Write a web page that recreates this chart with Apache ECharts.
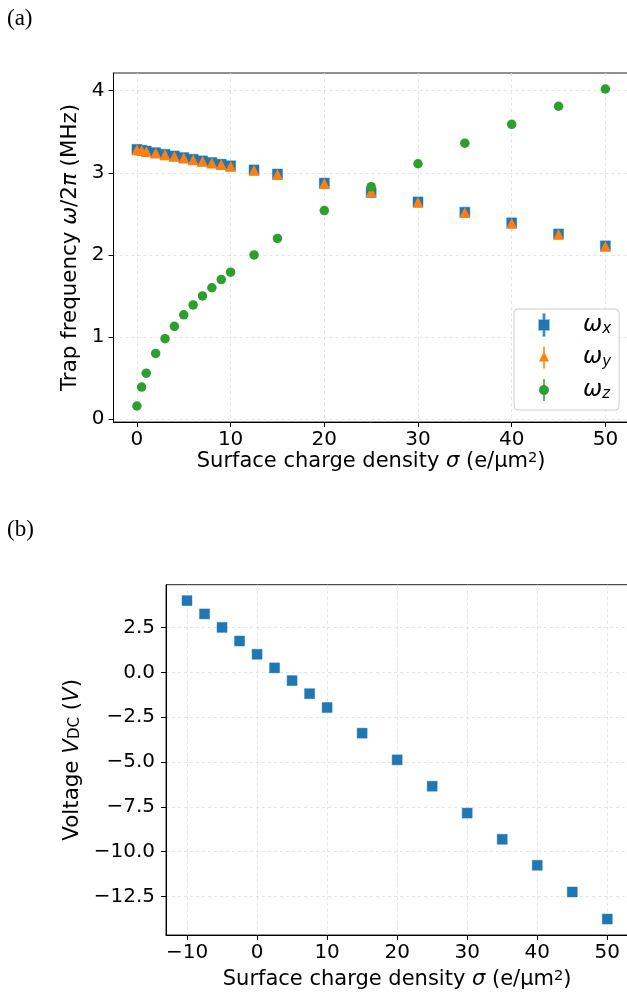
<!DOCTYPE html>
<html><head><meta charset="utf-8">
<script src="https://cdn.jsdelivr.net/npm/echarts@6/dist/echarts.min.js"></script>
<style>html,body{margin:0;padding:0;background:#fff}#c{width:627px;height:994px}</style>
</head><body><div id="c"></div>
<script>
// ---- data: panel (a) ----
const sigmaA = [0, 0.5, 1, 2, 3, 4, 5, 6, 7, 8, 9, 10, 12.5, 15, 20, 25, 30, 35, 40, 45, 50];
const omegaX = [3.285, 3.275, 3.265, 3.245, 3.225, 3.205, 3.185, 3.165, 3.145, 3.125, 3.105, 3.085, 3.035, 2.985, 2.875, 2.76, 2.645, 2.52, 2.39, 2.255, 2.11];
const omegaY = [3.28, 3.27, 3.26, 3.24, 3.22, 3.2, 3.18, 3.16, 3.14, 3.12, 3.1, 3.08, 3.03, 2.98, 2.87, 2.77, 2.64, 2.515, 2.385, 2.25, 2.105];
const omegaZ = [0.16, 0.39, 0.56, 0.80, 0.98, 1.13, 1.27, 1.39, 1.50, 1.60, 1.70, 1.79, 2.00, 2.20, 2.54, 2.83, 3.11, 3.36, 3.59, 3.81, 4.02];
const ticksAX = [0, 10, 20, 30, 40, 50];
const ticksAY = [0, 1, 2, 3, 4];
// ---- data: panel (b) ----
const sigmaB = [-10, -7.5, -5, -2.5, 0, 2.5, 5, 7.5, 10, 15, 20, 25, 30, 35, 40, 45, 50];
const voltage = [4.00, 3.26, 2.51, 1.75, 1.01, 0.25, -0.46, -1.19, -1.96, -3.39, -4.88, -6.35, -7.85, -9.31, -10.76, -12.25, -13.76];
const ticksBX = [-10, 0, 10, 20, 30, 40, 50];
const ticksBY = [-12.5, -10, -7.5, -5, -2.5, 0, 2.5];

const FONT = 'DejaVu Sans';
const zip = (xs, ys) => xs.map((x, i) => [x, ys[i]]);
const minus = s => s.replace('-', '\u2212');

const labelBase = {fontSize: 20, color: '#000', fontFamily: FONT};
function mkAxis(gridIndex, min, max, ticks, fmt, margin, name, nameGap, nameStyle) {
  return {
    gridIndex, type: 'value', min, max,
    axisLine: {show: true, onZero: false, lineStyle: {color: '#000', width: 1}},
    axisTick: {show: true, length: 5, inside: false, lineStyle: {color: '#000', width: 1}, customValues: ticks},
    axisLabel: Object.assign({customValues: ticks, margin, formatter: fmt}, labelBase),
    splitLine: {show: true, lineStyle: {color: '#dedede', type: [3, 3], width: 0.8}},
    name, nameLocation: 'middle', nameGap, nameTextStyle: nameStyle
  };
}
function rich(fs) {
  return {
    n: {fontSize: fs, fontFamily: FONT, color: '#000'},
    i: {fontSize: fs, fontFamily: FONT, fontStyle: 'italic', color: '#000'},
    sup: {fontSize: fs * 0.7, fontFamily: FONT, color: '#000', verticalAlign: 'top', padding: [0, 0, 6, 0]},
    sub: {fontSize: fs * 0.7, fontFamily: FONT, color: '#000', verticalAlign: 'bottom'}
  };
}
const xName = '{n|Surface charge density }{i|σ}{n| (e/µm}{sup|2}{n|)}';

const fmtInt = v => minus(String(v));
const fmt1 = v => minus(v.toFixed(1));

const sqIcon = 'path://M4.25,0H5.75V6H10V16H5.75V22H4.25V16H0V6H4.25Z';
const triIcon = 'path://M4.25,0H5.75V6.5L10,15H5.75V22H4.25V15H0L4.25,6.5Z';
const cirIcon = 'path://M4.25,0H5.75V6.06A5,5 0 0 1 5.75,15.94V22H4.25V15.94A5,5 0 0 1 4.25,6.06Z';

const legendLabels = {wx: '{g|}{w|ω}{s|x}', wy: '{g|}{w|ω}{s|y}', wz: '{g|}{w|ω}{s|z}'};

const option = {
  backgroundColor: '#fff',
  animation: false,
  grid: [
    {left: 113.5, top: 73, width: 515.3, height: 349, show: true, borderColor: '#222', borderWidth: 1, backgroundColor: 'transparent', containLabel: false, outerBoundsMode: 'none'},
    {left: 166, top: 584.7, width: 462.3, height: 350.3, show: true, borderColor: '#222', borderWidth: 1, backgroundColor: 'transparent', containLabel: false, outerBoundsMode: 'none'}
  ],
  xAxis: [
    mkAxis(0, -2.5, 52.5, ticksAX, fmtInt, 8, xName, 27, {rich: rich(21)}),
    mkAxis(1, -13, 53, ticksBX, fmtInt, 8, xName, 34, {rich: rich(21)})
  ],
  yAxis: [
    mkAxis(0, -0.035, 4.215, ticksAY, fmtInt, 9, '{n|Trap frequency }{i|ω}{n|/2}{i|π}{n| (MHz)}', 14, {rich: rich(21.4)}),
    mkAxis(1, -14.65, 4.89, ticksBY, fmt1, 11, '{n|Voltage }{i|V}{sub|DC}{n| (}{i|V}{n|)}', 66.5, {rich: rich(21.4)})
  ],
  legend: {
    orient: 'vertical', left: 514, top: 309,
    itemWidth: 10, itemHeight: 22, itemGap: 9,
    padding: [4, 8, 8, 24],
    backgroundColor: 'rgba(255,255,255,0.8)', borderColor: '#cccccc', borderWidth: 1, borderRadius: 4,
    data: [{name: 'wx', icon: sqIcon}, {name: 'wy', icon: triIcon}, {name: 'wz', icon: cirIcon}],
    formatter: n => legendLabels[n],
    textStyle: {
      rich: {
        g: {width: 29, lineHeight: 24},
        w: {fontSize: 23, lineHeight: 24, fontFamily: FONT, fontStyle: 'italic', color: '#000'},
        s: {fontSize: 15, fontFamily: FONT, fontStyle: 'italic', color: '#000', verticalAlign: 'bottom'}
      }
    }
  },
  graphic: [
    {type: 'text', left: 7, top: 7, style: {text: '(a)', fontSize: 23, fontFamily: 'Liberation Serif', fill: '#000'}},
    {type: 'text', left: 7, top: 518, style: {text: '(b)', fontSize: 23, fontFamily: 'Liberation Serif', fill: '#000'}}
  ],
  series: [
    {type: 'scatter', name: 'wx', xAxisIndex: 0, yAxisIndex: 0, data: zip(sigmaA, omegaX), symbol: 'rect', symbolSize: 10,
     itemStyle: {color: '#1f77b4', opacity: 1, borderColor: 'rgba(31,119,180,0.45)', borderWidth: 1}},
    {type: 'scatter', name: 'wy', xAxisIndex: 0, yAxisIndex: 0, data: zip(sigmaA, omegaY), symbol: 'triangle', symbolSize: 11,
     itemStyle: {color: '#ff7f0e', opacity: 1}},
    {type: 'scatter', name: 'wz', xAxisIndex: 0, yAxisIndex: 0, data: zip(sigmaA, omegaZ), symbol: 'circle', symbolSize: 9.5,
     itemStyle: {color: '#2ca02c', opacity: 1}},
    {type: 'scatter', name: 'V', xAxisIndex: 1, yAxisIndex: 1, data: zip(sigmaB, voltage), symbol: 'rect', symbolSize: 10,
     itemStyle: {color: '#1f77b4', opacity: 1, borderColor: 'rgba(31,119,180,0.45)', borderWidth: 1}}
  ]
};
const chart = echarts.init(document.getElementById('c'), null, {renderer: 'canvas'});
chart.setOption(option);
</script>
</body></html>
